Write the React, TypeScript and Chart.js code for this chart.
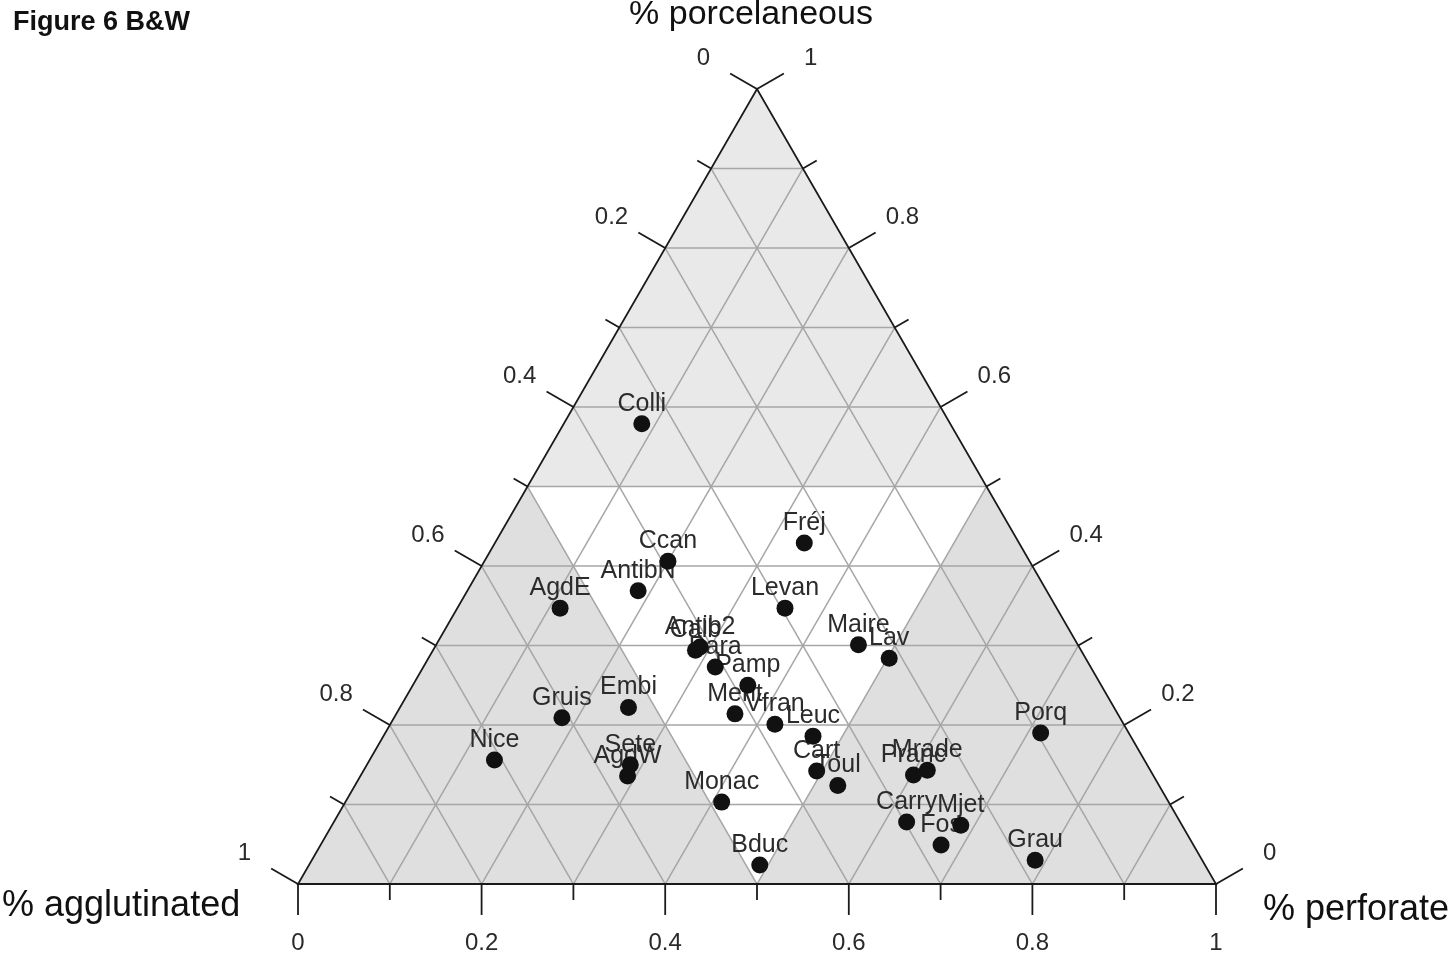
import React, { useEffect, useRef } from "react";
import { Chart, registerables } from "chart.js";

Chart.register(...registerables);

// Foraminifera assemblage composition per site (fractions summing to 1)
const sites = [
  "Colli", "Fréj", "Ccan", "AntibN", "AgdE", "Levan", "Antib2", "Calb", "Para", "Pamp",
  "Maire", "Lav", "Embi", "Gruis", "Ment", "Vfran", "Leuc", "Porq", "Nice", "Sete",
  "AgdW", "Cart", "Toul", "Mrade", "Pranc", "Monac", "Carry", "Mjet", "Fos", "Grau", "Bduc",
];
const porcelaneous = [
  0.579, 0.429, 0.406, 0.369, 0.347, 0.347, 0.298, 0.294, 0.273, 0.250,
  0.301, 0.284, 0.222, 0.209, 0.214, 0.201, 0.186, 0.190, 0.156, 0.150,
  0.136, 0.142, 0.124, 0.143, 0.137, 0.103, 0.078, 0.074, 0.049, 0.030, 0.024,
];
const perforate = [
  0.085, 0.337, 0.200, 0.186, 0.112, 0.357, 0.289, 0.286, 0.318, 0.365,
  0.460, 0.502, 0.249, 0.183, 0.369, 0.419, 0.468, 0.714, 0.136, 0.287,
  0.291, 0.494, 0.526, 0.614, 0.602, 0.410, 0.624, 0.685, 0.676, 0.788, 0.491,
];
const agglutinated = porcelaneous.map((p, i) => +(1 - p - perforate[i]).toFixed(3));

const tickValues = [0, 0.1, 0.2, 0.3, 0.4, 0.5, 0.6, 0.7, 0.8, 0.9, 1];
const tickLabels = ["0", "", "0.2", "", "0.4", "", "0.6", "", "0.8", "", "1"];
const shadeLimit = 0.5;

const SQ3 = Math.sqrt(3) / 2;
const FONT = '"Liberation Sans", Arial, sans-serif';

// ternary (agglutinated, porcelaneous, perforate) -> cartesian plane
const toXY = (porc: number, perf: number) => ({ x: perf + porc / 2, y: porc * SQ3 });

const ternaryPlugin = {
  id: "ternaryFrame",
  beforeDatasetsDraw(chart: any) {
    const { ctx, scales } = chart;
    const xs = scales.x;
    const ys = scales.y;
    const P = (agg: number, porc: number, perf: number) => {
      const c = toXY(porc, perf);
      return [xs.getPixelForValue(c.x), ys.getPixelForValue(c.y)];
    };
    const poly = (pts: number[][], fill: string) => {
      ctx.beginPath();
      ctx.moveTo(pts[0][0], pts[0][1]);
      for (let i = 1; i < pts.length; i++) ctx.lineTo(pts[i][0], pts[i][1]);
      ctx.closePath();
      ctx.fillStyle = fill;
      ctx.fill();
    };
    const line = (a: number[], b: number[]) => {
      ctx.beginPath();
      ctx.moveTo(a[0], a[1]);
      ctx.lineTo(b[0], b[1]);
      ctx.stroke();
    };
    const s = shadeLimit;
    ctx.save();

    // corner shading: background triangle, lighter top corner, white centre
    poly([P(1, 0, 0), P(0, 0, 1), P(0, 1, 0)], "#dfdfdf");
    poly([P(0, 1, 0), P(s, 1 - s, 0), P(0, 1 - s, s)], "#e9e9e9");
    poly([P(s, 1 - s, 0), P(0, 1 - s, s), P(s, 0, 1 - s)], "#ffffff");

    // grid
    ctx.strokeStyle = "#a6a6a6";
    ctx.lineWidth = 1.5;
    for (let k = 1; k < 10; k++) {
      const v = k / 10;
      line(P(1 - v, v, 0), P(0, v, 1 - v));
      line(P(v, 1 - v, 0), P(v, 0, 1 - v));
      line(P(0, 1 - v, v), P(1 - v, 0, v));
    }

    // frame
    ctx.strokeStyle = "#1a1a1a";
    ctx.lineWidth = 1.8;
    ctx.beginPath();
    const a = P(1, 0, 0), b = P(0, 0, 1), c = P(0, 1, 0);
    ctx.moveTo(a[0], a[1]);
    ctx.lineTo(b[0], b[1]);
    ctx.lineTo(c[0], c[1]);
    ctx.closePath();
    ctx.stroke();

    // ticks and tick labels on the three sides
    ctx.fillStyle = "#2a2a2a";
    ctx.font = `24px ${FONT}`;
    ctx.textAlign = "center";
    ctx.textBaseline = "middle";
    const cx = 0.866, cy = 0.5;
    tickValues.forEach((v, i) => {
      const len = i % 2 === 0 ? 31 : 16;
      // agglutinated, left side
      const l = P(v, 1 - v, 0);
      line(l, [l[0] - cx * len, l[1] - cy * len]);
      // porcelaneous, right side
      const r = P(0, v, 1 - v);
      line(r, [r[0] + cx * len, r[1] - cy * len]);
      // perforate, base
      const bt = P(1 - v, 0, v);
      line(bt, [bt[0], bt[1] + len]);
      if (tickLabels[i]) {
        ctx.fillText(tickLabels[i], l[0] - cx * 62, l[1] - cy * 62);
        ctx.fillText(tickLabels[i], r[0] + cx * 62, r[1] - cy * 62);
        ctx.fillText(tickLabels[i], bt[0], bt[1] + 59);
      }
    });

    // axis titles
    ctx.fillStyle = "#111";
    ctx.font = `34px ${FONT}`;
    ctx.fillText("% porcelaneous", c[0] - 6, 15);
    ctx.textAlign = "left";
    ctx.font = `36px ${FONT}`;
    ctx.fillText("% agglutinated", 2, 906);
    ctx.fillText("% perforate", 1263, 910);

    // figure caption
    ctx.font = `bold 27px ${FONT}`;
    ctx.fillText("Figure 6 B&W", 13, 23);

    // site names above their points
    ctx.textAlign = "center";
    ctx.font = `25px ${FONT}`;
    ctx.fillStyle = "#2b2b2b";
    sites.forEach((name, i) => {
      const p = P(agglutinated[i], porcelaneous[i], perforate[i]);
      ctx.fillText(name, p[0], p[1] - 20);
    });
    ctx.restore();
  },
};

export default function App() {
  const ref = useRef<HTMLCanvasElement>(null);
  useEffect(() => {
    if (!ref.current) return;
    const points = sites.map((_, i) => toXY(porcelaneous[i], perforate[i]));
    const chart = new Chart(ref.current, {
      type: "scatter",
      data: {
        datasets: [
          {
            data: points,
            pointRadius: 8.5,
            pointHoverRadius: 8.5,
            backgroundColor: "#111",
            borderWidth: 0,
            clip: false,
          } as any,
        ],
      },
      options: {
        animation: false,
        responsive: false,
        devicePixelRatio: 1,
        layout: { padding: { left: 298, right: 238, top: 89, bottom: 75 } },
        scales: {
          x: { type: "linear", min: 0, max: 1, display: false },
          y: { type: "linear", min: 0, max: SQ3, display: false },
        },
        plugins: { legend: { display: false }, tooltip: { enabled: false } },
      },
      plugins: [ternaryPlugin],
    });
    return () => chart.destroy();
  }, []);
  return (
    <div style={{ position: "absolute", left: 0, top: 0, width: 1454, height: 959, background: "#fff" }}>
      <canvas ref={ref} width={1454} height={959} />
    </div>
  );
}
